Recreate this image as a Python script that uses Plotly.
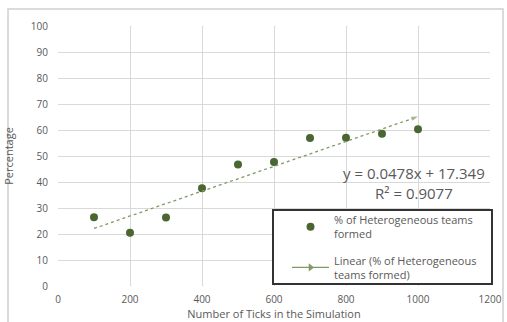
import plotly.graph_objects as go

# Simulation results: share of heterogeneous teams formed per run length
ticks = [100, 200, 300, 400, 500, 600, 700, 800, 900, 1000]
pct_hetero = [26.4, 20.5, 26.3, 37.6, 46.7, 47.7, 56.9, 57.0, 58.6, 60.3]

# Linear trendline reported on the chart
slope = 0.0478
intercept = 17.349
r_squared = 0.9077

x_ticks = [0, 200, 400, 600, 800, 1000, 1200]
y_ticks = [0, 10, 20, 30, 40, 50, 60, 70, 80, 90, 100]

W, H = 507, 322
ML, MR, MT, MB = 58, 17, 26, 36
PW, PH = W - ML - MR, H - MT - MB


def px_x(p):
    return (p - ML) / PW


def px_y(p):
    return (H - MB - p) / PH


marker_green = "#4a6632"
trend_green = "#7f9a62"
text_gray = "#595959"
grid_gray = "#d9d9d9"
FONT = "Open Sans, sans-serif"

trend_x = [min(ticks), max(ticks)]
trend_y = [slope * v + intercept for v in trend_x]

fig = go.Figure()

fig.add_trace(go.Scatter(
    x=ticks, y=pct_hetero, mode="markers",
    name="% of Heterogeneous teams<br>formed", legendgroup="data",
    marker=dict(color=marker_green, size=8, line=dict(width=0)),
))

fig.add_trace(go.Scatter(
    x=trend_x, y=trend_y, mode="lines+markers",
    showlegend=False, legendgroup="trend",
    line=dict(color=trend_green, width=1.3, dash="dot"),
    marker=dict(symbol="arrow", angleref="previous", size=[0, 7],
                color=trend_green, line=dict(width=0)),
))

# legend entry for the trendline
fig.add_trace(go.Scatter(
    x=[None], y=[None], mode="lines+markers",
    name="Linear (% of Heterogeneous<br>teams formed)", legendgroup="trend",
    line=dict(color=trend_green, width=1.3),
    marker=dict(symbol="triangle-right", size=7, color=trend_green),
))

eq_text = f"y = {slope}x + {intercept}<br>R² = {r_squared}"
fig.add_annotation(
    x=px_x(414), y=px_y(183), xref="paper", yref="paper",
    xanchor="center", yanchor="middle",
    text=eq_text, showarrow=False, align="center",
    font=dict(family=FONT, size=15, color=text_gray),
)

# outer chart border
fig.add_shape(type="rect", xref="paper", yref="paper",
              x0=px_x(8), x1=px_x(503), y0=px_y(335), y1=px_y(9),
              line=dict(color="#d0d0d0", width=1.5), layer="below")
# legend frame
fig.add_shape(type="rect", xref="paper", yref="paper",
              x0=px_x(273), x1=px_x(492), y0=px_y(284), y1=px_y(210),
              line=dict(color="#333333", width=2), fillcolor="white",
              layer="above")

axis_font = dict(family=FONT, size=10, color=text_gray)
title_font = dict(family=FONT, size=11, color=text_gray)

fig.update_layout(
    width=W, height=H,
    margin=dict(l=ML, r=MR, t=MT, b=MB, autoexpand=False),
    paper_bgcolor="white", plot_bgcolor="white",
    showlegend=True,
    legend=dict(
        x=px_x(287), y=px_y(206), xanchor="left", yanchor="top",
        bgcolor="rgba(0,0,0,0)", borderwidth=0,
        itemwidth=37, traceorder="grouped", tracegroupgap=9,
        font=dict(family=FONT, size=11, color=text_gray),
    ),
    xaxis=dict(
        range=[0, 1200], tickvals=x_ticks, ticktext=[str(v) for v in x_ticks],
        showgrid=True, gridcolor=grid_gray, gridwidth=1,
        zeroline=False, showline=False, ticks="", automargin=False,
        tickfont=axis_font, ticklabelstandoff=6,
        title=dict(text="Number of Ticks in the Simulation", standoff=2,
                   font=title_font),
    ),
    yaxis=dict(
        range=[0, 100], tickvals=y_ticks, ticktext=[str(v) for v in y_ticks],
        showgrid=True, gridcolor=grid_gray, gridwidth=1,
        zeroline=False, showline=False, ticks="", automargin=False,
        tickfont=axis_font, ticklabelstandoff=9,
        title=dict(text="Percentage", standoff=14, font=title_font),
    ),
)

fig.write_html("out.html")
